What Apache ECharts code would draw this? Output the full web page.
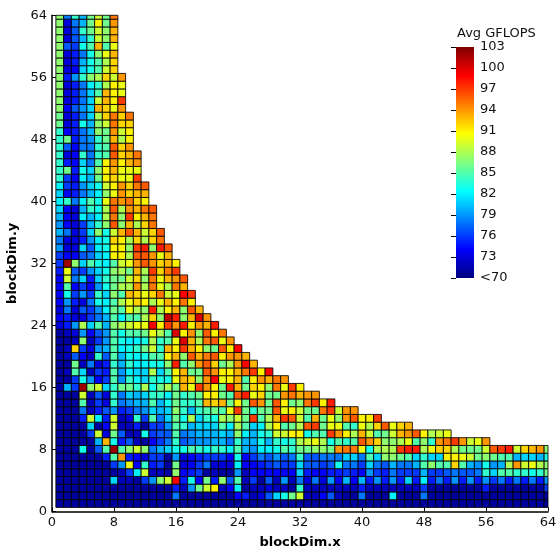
<!DOCTYPE html>
<html><head><meta charset="utf-8">
<style>html,body{margin:0;padding:0;background:#fff}#c{width:558px;height:550px}</style>
<script src="https://cdn.jsdelivr.net/npm/echarts@6/dist/echarts.min.js"></script>
</head><body><div id="c"></div>
<script>
const y64=[87,78,84,80,86,89,86,95];
const y63=[87,73,78,80,86,91,86,94];
const y62=[87,73,77,84,86,89,87,93];
const y61=[87,73,77,80,84,89,87,93];
const y60=[87,77,76,83,85,93,85,90];
const y59=[87,73,75,78,83,87,90,93];
const y58=[87,73,75,80,83,85,88,92];
const y57=[87,73,74,81,83,85,89,92];
const y56=[87,75,79,84,87,88,92,89,94];
const y55=[87,73,75,78,82,84,88,91,90];
const y54=[87,73,75,78,81,85,93,91,90];
const y53=[87,73,75,78,81,89,93,91,97];
const y52=[87,74,77,79,81,93,92,90,94];
const y51=[86,73,75,78,81,88,92,95,92,95];
const y50=[86,73,75,83,80,87,89,95,92,92];
const y49=[84,74,75,78,80,87,86,94,89,91];
const y48=[84,86,75,78,79,84,86,93,88,91];
const y47=[84,77,74,78,78,84,85,96,92,94];
const y46=[84,73,74,84,78,84,85,96,92,93,95];
const y45=[84,75,74,81,78,85,91,94,91,93,94];
const y44=[84,86,75,83,81,87,91,93,90,90,90];
const y43=[84,76,74,82,80,86,91,92,90,90,97];
const y42=[82,76,75,79,81,83,89,91,94,92,95,96];
const y41=[81,74,75,78,80,82,87,90,94,92,93,93];
const y40=[82,84,78,82,85,83,90,95,94,95,92,91];
const y39=[81,74,73,80,84,83,88,96,88,94,93,95,96];
const y38=[80,74,73,82,80,82,88,95,87,97,91,93,95];
const y37=[79,74,73,76,80,84,87,96,87,93,88,92,95];
const y36=[80,78,73,76,81,87,83,89,93,96,93,89,92,96];
const y35=[78,73,73,75,79,82,83,92,91,88,92,88,92,95];
const y34=[79,73,73,81,77,82,83,91,91,87,97,98,87,98,96];
const y33=[76,74,74,77,78,81,82,91,91,88,96,96,94,90,93];
const y32=[76,102,87,81,85,83,82,85,89,90,94,96,94,92,93,91];
const y31=[75,90,77,76,79,81,83,87,88,86,93,88,97,92,95,97];
const y30=[74,89,78,81,75,81,84,86,86,89,92,87,95,90,93,94,96];
const y29=[74,85,74,76,74,79,83,86,88,88,94,88,95,90,88,95,93];
const y28=[74,83,76,79,76,84,81,87,85,93,92,90,92,95,89,90,99,97];
const y27=[74,79,75,73,78,83,82,85,88,90,92,91,88,90,93,91,95,91];
const y26=[73,78,73,77,76,79,82,86,85,90,88,87,98,88,91,93,87,96,93];
const y25=[74,75,73,73,76,78,80,85,82,85,85,88,92,87,101,98,87,93,100,94];
const y24=[73,75,79,88,81,85,80,87,88,89,90,90,99,91,97,94,98,91,94,93,98];
const y23=[71,72,73,79,74,77,79,85,83,85,85,86,90,88,85,100,91,94,87,96,91,95];
const y22=[71,71,72,87,72,76,79,85,83,82,82,83,88,84,85,90,100,93,88,95,96,90,94];
const y21=[71,72,92,76,73,79,80,85,82,83,84,86,89,84,93,91,97,93,91,87,86,96,91,99];
const y20=[71,72,77,74,72,84,77,85,80,83,82,83,85,85,91,93,87,96,93,95,96,91,94,94,93];
const y19=[71,71,86,72,78,73,75,84,80,84,82,82,83,83,87,98,85,87,94,96,92,86,88,94,99,93];
const y18=[71,72,85,81,72,76,75,85,79,82,81,81,88,81,85,91,93,86,86,96,94,91,91,93,95,97,91,99];
const y17=[71,71,76,83,79,74,76,85,79,84,82,81,84,83,83,90,93,92,87,94,99,90,91,93,85,91,94,93,95,94];
const y16=[71,80,76,102,87,89,81,84,86,86,84,88,83,86,88,86,93,90,97,94,91,86,98,93,86,92,91,87,95,90,97,91];
const y15=[71,71,71,89,72,77,73,84,78,81,80,81,84,84,82,86,84,85,86,91,91,86,85,96,98,90,92,86,86,94,95,93,94,94];
const y14=[71,71,71,85,72,76,73,84,78,79,80,80,85,80,83,86,84,84,85,93,92,93,86,91,86,96,94,86,96,91,86,87,95,97,91,98];
const y13=[71,71,71,78,72,75,77,79,75,76,78,79,81,80,81,87,84,80,84,85,86,85,90,97,86,84,86,86,96,90,91,89,86,86,95,97,89,94,94];
const y12=[71,71,71,75,89,82,75,89,72,73,84,76,85,78,81,86,83,88,81,84,83,88,87,89,86,97,85,88,93,97,96,89,85,93,86,90,87,94,96,91,91,97];
const y11=[71,71,71,71,81,71,74,89,72,72,75,71,76,76,79,85,84,80,81,81,81,85,82,88,85,81,82,88,91,85,86,88,96,97,86,90,90,85,84,90,88,92,96,90,92,93];
const y10=[71,71,71,71,76,89,73,86,77,72,72,83,76,77,77,85,78,79,80,80,80,81,80,87,82,80,83,84,89,89,91,91,83,85,85,97,94,91,88,93,89,85,86,89,93,94,96,91,88,89,90];
const y09=[71,71,71,71,71,80,93,83,75,77,72,71,74,76,78,84,77,78,79,79,80,80,78,84,80,80,83,80,84,83,84,88,89,90,88,83,85,84,85,96,94,92,87,87,88,90,85,87,84,94,95,97,94,89,90,94];
const y08=[71,71,71,83,71,77,85,102,85,87,89,87,78,80,81,83,83,85,84,83,84,84,82,85,80,79,82,82,83,85,84,86,86,87,87,86,94,95,95,90,83,88,88,88,97,98,98,88,90,92,92,88,86,86,86,89,96,97,98,89,92,93,94,87];
const y07=[71,71,71,71,71,71,75,85,94,75,74,73,76,76,71,79,73,74,75,76,76,76,74,83,74,76,78,77,79,77,78,84,77,77,78,78,78,81,81,78,85,81,87,87,86,85,81,84,81,81,91,91,90,89,86,87,86,85,85,80,81,81,80,83];
const y06=[71,71,71,71,71,71,71,76,79,90,74,84,75,76,71,86,73,74,76,78,73,73,73,82,74,74,75,76,77,76,76,81,77,77,76,77,83,78,78,76,81,78,77,80,78,78,80,85,87,85,85,92,85,80,79,83,79,80,88,94,89,90,88,87];
const y05=[71,71,71,71,71,71,71,71,72,76,82,89,72,72,71,87,74,75,76,71,72,71,71,79,72,74,74,74,74,74,74,81,75,74,74,75,75,76,75,74,79,76,75,78,76,76,76,80,76,76,77,78,77,77,78,84,81,85,85,84,84,83,84,86];
const y04=[71,71,71,71,71,71,71,81,72,72,71,76,79,87,89,99,75,83,74,86,75,87,77,85,72,76,71,77,72,79,72,78,73,78,73,79,74,80,74,80,75,79,75,79,75,81,75,82,75,78,75,79,75,79,75,79,76,78,75,78,75,78,75,79];
const y03=[71,71,71,71,71,71,71,71,71,71,71,71,71,71,71,75,72,79,86,89,91,72,74,82,71,72,72,73,72,72,71,84,72,72,72,72,72,72,72,75,72,72,72,72,72,72,72,76,71,71,71,71,71,71,71,75,71,71,71,71,71,71,71,76];
const y02=[71,71,71,71,71,71,71,71,71,71,71,71,71,71,71,78,71,71,71,71,71,71,71,74,75,72,73,77,81,83,86,89,72,72,74,77,72,71,71,78,71,71,71,82,71,71,71,78,71,71,71,71,71,71,71,71,71,71,71,71,71,71,71,71];
const y01=[71,71,71,71,71,71,71,71,71,71,71,71,71,71,71,71,71,71,71,71,71,71,71,71,71,71,71,71,71,71,71,71,71,71,71,71,71,71,71,71,71,71,71,71,71,71,71,71,71,71,71,71,71,71,71,71,71,71,71,71,71,71,71,71];
const rowsFromBottom=[y01,y02,y03,y04,y05,y06,y07,y08,y09,y10,y11,y12,y13,y14,y15,y16,y17,y18,y19,y20,y21,y22,y23,y24,y25,y26,y27,y28,y29,y30,y31,y32,y33,y34,y35,y36,y37,y38,y39,y40,y41,y42,y43,y44,y45,y46,y47,y48,y49,y50,y51,y52,y53,y54,y55,y56,y57,y58,y59,y60,y61,y62,y63,y64];
const jetColors=['#00007f','#0000ff','#007fff','#00ffff','#7fff7f','#ffff00','#ff7f00','#ff0000','#7f0000'];
const scaleMin=70, scaleMax=103;
const FONT='"DejaVu Sans"';
const cells=[];
rowsFromBottom.forEach((r,i)=>r.forEach((v,j)=>cells.push([j+1,i+1,v])));

const chart=echarts.init(document.getElementById('c'),null,{renderer:'canvas'});
chart.setOption({
  animation:false,
  backgroundColor:'#fff',
  textStyle:{fontFamily:FONT},
  title:{text:'Avg GFLOPS',left:457,top:27,padding:0,textStyle:{fontFamily:FONT,fontSize:13,fontWeight:'normal',color:'#111'}},
  grid:[
    {left:52,right:10,top:15.3,bottom:38.7,outerBoundsMode:'none'},
    {left:456,top:47,width:18,height:231,outerBoundsMode:'none'}
  ],
  xAxis:[
    {type:'value',gridIndex:0,min:0,max:64,interval:8,splitLine:{show:false},
     axisLine:{onZero:false,lineStyle:{color:'#000',width:1.5}},
     axisTick:{inside:true,length:4,lineStyle:{color:'#000'}},
     axisLabel:{color:'#111',fontSize:13,margin:5,fontFamily:FONT,hideOverlap:false,showMinLabel:true,showMaxLabel:true},
     name:'blockDim.x',nameLocation:'middle',nameGap:25,
     nameTextStyle:{fontFamily:FONT,fontSize:13,fontWeight:'bold',color:'#000'}},
    {type:'value',gridIndex:1,show:false,min:0,max:1}
  ],
  yAxis:[
    {type:'value',gridIndex:0,min:0,max:64,interval:8,splitLine:{show:false},
     axisLine:{onZero:false,lineStyle:{color:'#000',width:1.5}},
     axisTick:{inside:true,length:4,lineStyle:{color:'#000'}},
     axisLabel:{color:'#111',fontSize:13,margin:5,fontFamily:FONT,hideOverlap:false,showMinLabel:true,showMaxLabel:true},
     name:'blockDim.y',nameLocation:'middle',nameGap:25,
     nameTextStyle:{fontFamily:FONT,fontSize:13,fontWeight:'bold',color:'#000'}},
    {type:'value',gridIndex:1,position:'right',min:scaleMin,max:scaleMax,interval:3,z:10,splitLine:{show:false},
     axisLine:{show:false},
     axisTick:{inside:true,length:5,lineStyle:{color:'#000'}},
     axisLabel:{color:'#111',fontSize:13,margin:6,fontFamily:FONT,hideOverlap:false,showMinLabel:true,showMaxLabel:true,
       formatter:v=>v===scaleMin?'<70':String(v)}}
  ],
  visualMap:{type:'continuous',show:false,min:scaleMin,max:scaleMax,dimension:2,seriesIndex:0,inRange:{color:jetColors}},
  series:[{
    type:'custom',coordinateSystem:'cartesian2d',xAxisIndex:0,yAxisIndex:0,
    encode:{x:0,y:1},data:cells,silent:true,
    renderItem(params,api){
      const x=api.value(0),y=api.value(1);
      const a=api.coord([x-0.5,y+0.5]),b=api.coord([x+0.5,y-0.5]);
      const s=params.coordSys;
      const shape=echarts.graphic.clipRectByRect(
        {x:a[0],y:a[1],width:b[0]-a[0],height:b[1]-a[1]},
        {x:s.x,y:s.y,width:s.width,height:s.height});
      return shape&&{type:'rect',shape,style:{fill:api.visual('color'),stroke:'#000',lineWidth:0.85}};
    }
  },{
    type:'custom',coordinateSystem:'cartesian2d',xAxisIndex:1,yAxisIndex:1,
    data:[[0,scaleMin,1,scaleMax]],encode:{x:[0,2],y:[1,3]},silent:true,clip:false,
    renderItem(params,api){
      const a=api.coord([api.value(0),api.value(3)]),b=api.coord([api.value(2),api.value(1)]);
      return {type:'rect',shape:{x:a[0],y:a[1],width:b[0]-a[0],height:b[1]-a[1]},
        style:{fill:new echarts.graphic.LinearGradient(0,1,0,0,jetColors.map((color,i)=>({offset:i/(jetColors.length-1),color})))}};
    }
  }]
});
</script></body></html>
